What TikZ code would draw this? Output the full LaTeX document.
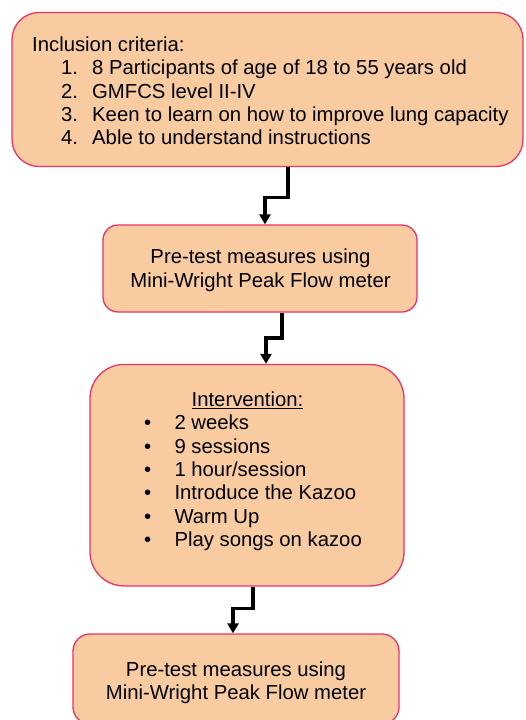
\documentclass[tikz,border=0pt]{standalone}
\usepackage{fontspec}
\setmainfont{Liberation Sans}
\usetikzlibrary{arrows.meta}
\definecolor{boxfill}{RGB}{248,203,160}
\definecolor{boxline}{RGB}{232,52,104}
\begin{document}
\begin{tikzpicture}[x=1pt,y=-1pt,
  box/.style={draw=boxline,fill=boxfill,line width=1.3pt,inner sep=0pt,rectangle},
  txt/.style={inner sep=0pt,font=\fontsize{20.3pt}{23.4pt}\selectfont,text=black},
  conn/.style={line width=3.6pt,-{Triangle[width=11pt,length=10pt]}}]
\useasboundingbox (0,0) rectangle (525,720);
% boxes
\node[box,minimum width=511pt,minimum height=154pt,rounded corners=27pt] (b1) at (267.5,89.5) {};
\node[box,minimum width=314pt,minimum height=87pt,rounded corners=15pt] (b2) at (260,268.5) {};
\node[box,minimum width=314pt,minimum height=221.5pt,rounded corners=34pt] (b3) at (247,475.2) {};
\node[box,minimum width=326pt,minimum height=90pt,rounded corners=17pt] (b4) at (236,679) {};
% box 1 text
\node[txt,anchor=base west] (t1) at (32,51) {Inclusion criteria:};
\node[txt,anchor=base west] (n1) at (61,74.5) {1.};
\node[txt,anchor=base west] (i1) at (92,74.5) {8 Participants of age of 18 to 55 years old};
\node[txt,anchor=base west] (n2) at (61,98) {2.};
\node[txt,anchor=base west] (i2) at (92,98) {GMFCS level II-IV};
\node[txt,anchor=base west] (n3) at (61,121.3) {3.};
\node[txt,anchor=base west] (i3) at (92,121.3) {Keen to learn on how to improve lung capacity};
\node[txt,anchor=base west] (n4) at (61,144.6) {4.};
\node[txt,anchor=base west] (i4) at (92,144.6) {Able to understand instructions};
% box 2 text
\node[txt,anchor=base] (p1) at (260.5,263.5) {Pre-test measures using};
\node[txt,anchor=base] (p2) at (260.5,287.5) {Mini-Wright Peak Flow meter};
% box 3 text
\node[txt,anchor=base] (h3) at (247.5,406.5) {\underline{Intervention:}};
\foreach \y/\t [count=\k] in {429.8/{2 weeks},453.1/{9 sessions},476.4/{1 hour/session},499.7/{Introduce the Kazoo},523/{Warm Up},546.3/{Play songs on kazoo}}{
  \node[txt,anchor=base] (d\k) at (147.7,\y) {\textbullet};
  \node[txt,anchor=base west] (e\k) at (174.3,\y) {\t};
}
% box 4 text
\node[txt,anchor=base] (q1) at (236,676) {Pre-test measures using};
\node[txt,anchor=base] (q2) at (236,699.5) {Mini-Wright Peak Flow meter};
% connectors
\draw[conn] ([xshift=20.5pt]b1.south) -- ++(0,30.5) -| ([xshift=5pt]b2.north);
\draw[conn] ([xshift=22pt]b2.south) -- ++(0,25.5) -| ([xshift=19pt]b3.north);
\draw[conn] ([xshift=6pt]b3.south) -- ++(0,22) -| ([xshift=-3pt]b4.north);
\end{tikzpicture}
\end{document}
